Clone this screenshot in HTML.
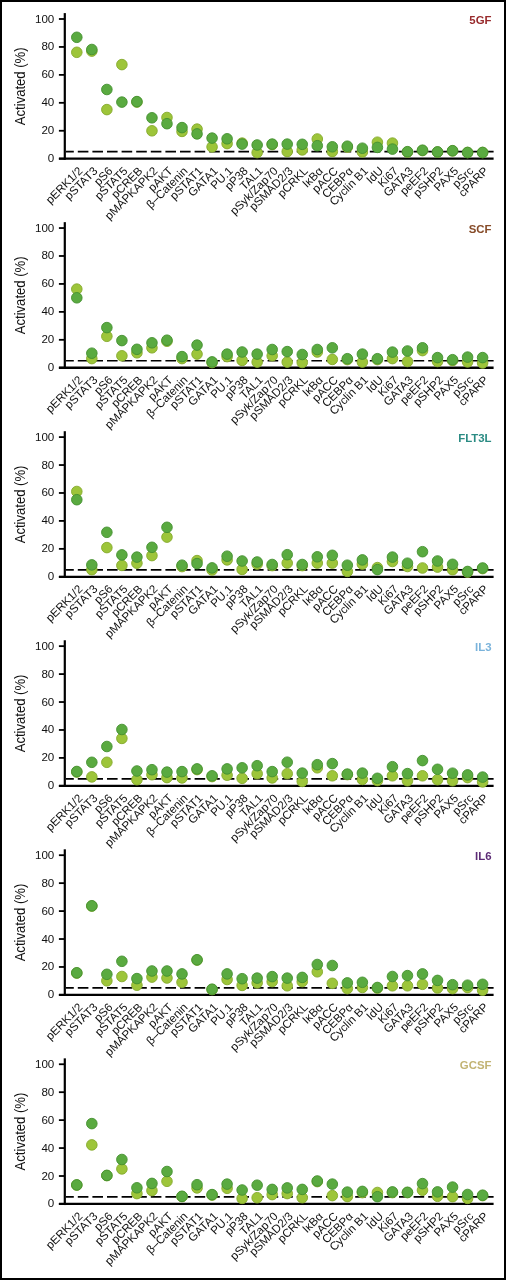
<!DOCTYPE html><html><head><meta charset="utf-8"><style>html,body{margin:0;padding:0;background:#fff;}svg{display:block;will-change:transform;}text{font-family:"Liberation Sans",sans-serif;}</style></head><body>
<svg width="506" height="1280" viewBox="0 0 506 1280">
<rect x="0" y="0" width="506" height="1280" fill="#fff"/>
<g><line x1="64.8" y1="13.10" x2="64.8" y2="159.80" stroke="#000" stroke-width="2.2"/><line x1="58.9" y1="158.70" x2="64.8" y2="158.70" stroke="#000" stroke-width="1.8"/><text x="54.3" y="162.20" font-size="11.6" text-anchor="end" fill="#111">0</text><line x1="58.9" y1="130.76" x2="64.8" y2="130.76" stroke="#000" stroke-width="1.8"/><text x="54.3" y="134.26" font-size="11.6" text-anchor="end" fill="#111">20</text><line x1="58.9" y1="102.82" x2="64.8" y2="102.82" stroke="#000" stroke-width="1.8"/><text x="54.3" y="106.32" font-size="11.6" text-anchor="end" fill="#111">40</text><line x1="58.9" y1="74.88" x2="64.8" y2="74.88" stroke="#000" stroke-width="1.8"/><text x="54.3" y="78.38" font-size="11.6" text-anchor="end" fill="#111">60</text><line x1="58.9" y1="46.94" x2="64.8" y2="46.94" stroke="#000" stroke-width="1.8"/><text x="54.3" y="50.44" font-size="11.6" text-anchor="end" fill="#111">80</text><line x1="58.9" y1="19.00" x2="64.8" y2="19.00" stroke="#000" stroke-width="1.8"/><text x="54.3" y="22.50" font-size="11.6" text-anchor="end" fill="#111">100</text><line x1="58.9" y1="158.70" x2="493.6" y2="158.70" stroke="#000" stroke-width="2.3"/><line x1="65.9" y1="151.70" x2="493.6" y2="151.70" stroke="#000" stroke-width="1.7" stroke-dasharray="10.6 4" stroke-dashoffset="2.7"/><text transform="translate(24.8,86.30) rotate(-90) scale(0.855,1)" font-size="15.3" text-anchor="middle" fill="#111">Activated (%)</text><text x="491.5" y="23.60" font-size="11.4" font-weight="bold" text-anchor="end" fill="#982a2c">5GF</text><text transform="translate(83.20,171.70) rotate(-45) scale(1.0,1)" font-size="11.6" text-anchor="end" fill="#111">pERK1/2</text><text transform="translate(98.23,171.70) rotate(-45) scale(1.0,1)" font-size="11.6" text-anchor="end" fill="#111">pSTAT3</text><text transform="translate(113.26,171.70) rotate(-45) scale(1.0,1)" font-size="11.6" text-anchor="end" fill="#111">pS6</text><text transform="translate(128.29,171.70) rotate(-45) scale(1.0,1)" font-size="11.6" text-anchor="end" fill="#111">pSTAT5</text><text transform="translate(143.32,171.70) rotate(-45) scale(1.0,1)" font-size="11.6" text-anchor="end" fill="#111">pCREB</text><text transform="translate(158.35,171.70) rotate(-45) scale(1.0,1)" font-size="11.6" text-anchor="end" fill="#111">pMAPKAPK2</text><text transform="translate(173.38,171.70) rotate(-45) scale(1.0,1)" font-size="11.6" text-anchor="end" fill="#111">pAKT</text><text transform="translate(188.41,171.70) rotate(-45) scale(1.0,1)" font-size="11.6" text-anchor="end" fill="#111">β–Catenin</text><text transform="translate(203.44,171.70) rotate(-45) scale(1.0,1)" font-size="11.6" text-anchor="end" fill="#111">pSTAT1</text><text transform="translate(218.47,171.70) rotate(-45) scale(1.0,1)" font-size="11.6" text-anchor="end" fill="#111">GATA1</text><text transform="translate(233.50,171.70) rotate(-45) scale(1.0,1)" font-size="11.6" text-anchor="end" fill="#111">PU.1</text><text transform="translate(248.53,171.70) rotate(-45) scale(1.0,1)" font-size="11.6" text-anchor="end" fill="#111">pP38</text><text transform="translate(263.56,171.70) rotate(-45) scale(1.0,1)" font-size="11.6" text-anchor="end" fill="#111">TAL1</text><text transform="translate(278.59,171.70) rotate(-45) scale(1.0,1)" font-size="11.6" text-anchor="end" fill="#111">pSyk/Zap70</text><text transform="translate(293.62,171.70) rotate(-45) scale(1.0,1)" font-size="11.6" text-anchor="end" fill="#111">pSMAD2/3</text><text transform="translate(308.65,171.70) rotate(-45) scale(1.0,1)" font-size="11.6" text-anchor="end" fill="#111">pCRKL</text><text transform="translate(323.68,171.70) rotate(-45) scale(1.0,1)" font-size="11.6" text-anchor="end" fill="#111">IκBα</text><text transform="translate(338.71,171.70) rotate(-45) scale(1.0,1)" font-size="11.6" text-anchor="end" fill="#111">pACC</text><text transform="translate(353.74,171.70) rotate(-45) scale(1.0,1)" font-size="11.6" text-anchor="end" fill="#111">CEBPα</text><text transform="translate(368.77,171.70) rotate(-45) scale(1.0,1)" font-size="11.6" text-anchor="end" fill="#111">Cyclin B1</text><text transform="translate(383.80,171.70) rotate(-45) scale(1.0,1)" font-size="11.6" text-anchor="end" fill="#111">IdU</text><text transform="translate(398.83,171.70) rotate(-45) scale(1.0,1)" font-size="11.6" text-anchor="end" fill="#111">Ki67</text><text transform="translate(413.86,171.70) rotate(-45) scale(1.0,1)" font-size="11.6" text-anchor="end" fill="#111">GATA3</text><text transform="translate(428.89,171.70) rotate(-45) scale(1.0,1)" font-size="11.6" text-anchor="end" fill="#111">peEF2</text><text transform="translate(443.92,171.70) rotate(-45) scale(1.0,1)" font-size="11.6" text-anchor="end" fill="#111">pSHP2</text><text transform="translate(458.95,171.70) rotate(-45) scale(1.0,1)" font-size="11.6" text-anchor="end" fill="#111">PAX5</text><text transform="translate(473.98,171.70) rotate(-45) scale(1.0,1)" font-size="11.6" text-anchor="end" fill="#111">pSrc</text><text transform="translate(489.01,171.70) rotate(-45) scale(1.0,1)" font-size="11.6" text-anchor="end" fill="#111">cPARP</text><circle cx="76.80" cy="52.30" r="5.3" fill="#9dc53a" stroke="#84a92b" stroke-width="0.9"/><circle cx="91.83" cy="51.10" r="5.3" fill="#9dc53a" stroke="#84a92b" stroke-width="0.9"/><circle cx="106.86" cy="109.60" r="5.3" fill="#9dc53a" stroke="#84a92b" stroke-width="0.9"/><circle cx="121.89" cy="64.60" r="5.3" fill="#9dc53a" stroke="#84a92b" stroke-width="0.9"/><circle cx="136.92" cy="102.10" r="5.3" fill="#9dc53a" stroke="#84a92b" stroke-width="0.9"/><circle cx="151.95" cy="130.80" r="5.3" fill="#9dc53a" stroke="#84a92b" stroke-width="0.9"/><circle cx="166.98" cy="117.50" r="5.3" fill="#9dc53a" stroke="#84a92b" stroke-width="0.9"/><circle cx="182.01" cy="131.40" r="5.3" fill="#9dc53a" stroke="#84a92b" stroke-width="0.9"/><circle cx="197.04" cy="129.10" r="5.3" fill="#9dc53a" stroke="#84a92b" stroke-width="0.9"/><circle cx="212.07" cy="146.90" r="5.3" fill="#9dc53a" stroke="#84a92b" stroke-width="0.9"/><circle cx="227.10" cy="143.60" r="5.3" fill="#9dc53a" stroke="#84a92b" stroke-width="0.9"/><circle cx="242.13" cy="143.10" r="5.3" fill="#9dc53a" stroke="#84a92b" stroke-width="0.9"/><circle cx="257.16" cy="152.60" r="5.3" fill="#9dc53a" stroke="#84a92b" stroke-width="0.9"/><circle cx="272.19" cy="144.60" r="5.3" fill="#9dc53a" stroke="#84a92b" stroke-width="0.9"/><circle cx="287.22" cy="151.60" r="5.3" fill="#9dc53a" stroke="#84a92b" stroke-width="0.9"/><circle cx="302.25" cy="149.90" r="5.3" fill="#9dc53a" stroke="#84a92b" stroke-width="0.9"/><circle cx="317.28" cy="139.00" r="5.3" fill="#9dc53a" stroke="#84a92b" stroke-width="0.9"/><circle cx="332.31" cy="151.60" r="5.3" fill="#9dc53a" stroke="#84a92b" stroke-width="0.9"/><circle cx="347.34" cy="147.10" r="5.3" fill="#9dc53a" stroke="#84a92b" stroke-width="0.9"/><circle cx="362.37" cy="152.00" r="5.3" fill="#9dc53a" stroke="#84a92b" stroke-width="0.9"/><circle cx="377.40" cy="142.20" r="5.3" fill="#9dc53a" stroke="#84a92b" stroke-width="0.9"/><circle cx="392.43" cy="143.10" r="5.3" fill="#9dc53a" stroke="#84a92b" stroke-width="0.9"/><circle cx="407.46" cy="152.10" r="5.3" fill="#9dc53a" stroke="#84a92b" stroke-width="0.9"/><circle cx="422.49" cy="150.60" r="5.3" fill="#9dc53a" stroke="#84a92b" stroke-width="0.9"/><circle cx="437.52" cy="152.10" r="5.3" fill="#9dc53a" stroke="#84a92b" stroke-width="0.9"/><circle cx="452.55" cy="150.90" r="5.3" fill="#9dc53a" stroke="#84a92b" stroke-width="0.9"/><circle cx="467.58" cy="152.50" r="5.3" fill="#9dc53a" stroke="#84a92b" stroke-width="0.9"/><circle cx="482.61" cy="152.50" r="5.3" fill="#9dc53a" stroke="#84a92b" stroke-width="0.9"/><circle cx="76.80" cy="37.30" r="5.3" fill="#5aaa40" stroke="#43902f" stroke-width="0.9"/><circle cx="91.83" cy="49.50" r="5.3" fill="#5aaa40" stroke="#43902f" stroke-width="0.9"/><circle cx="106.86" cy="89.50" r="5.3" fill="#5aaa40" stroke="#43902f" stroke-width="0.9"/><circle cx="121.89" cy="102.10" r="5.3" fill="#5aaa40" stroke="#43902f" stroke-width="0.9"/><circle cx="136.92" cy="101.60" r="5.3" fill="#5aaa40" stroke="#43902f" stroke-width="0.9"/><circle cx="151.95" cy="117.80" r="5.3" fill="#5aaa40" stroke="#43902f" stroke-width="0.9"/><circle cx="166.98" cy="123.70" r="5.3" fill="#5aaa40" stroke="#43902f" stroke-width="0.9"/><circle cx="182.01" cy="127.60" r="5.3" fill="#5aaa40" stroke="#43902f" stroke-width="0.9"/><circle cx="197.04" cy="133.90" r="5.3" fill="#5aaa40" stroke="#43902f" stroke-width="0.9"/><circle cx="212.07" cy="138.10" r="5.3" fill="#5aaa40" stroke="#43902f" stroke-width="0.9"/><circle cx="227.10" cy="138.80" r="5.3" fill="#5aaa40" stroke="#43902f" stroke-width="0.9"/><circle cx="242.13" cy="144.10" r="5.3" fill="#5aaa40" stroke="#43902f" stroke-width="0.9"/><circle cx="257.16" cy="145.00" r="5.3" fill="#5aaa40" stroke="#43902f" stroke-width="0.9"/><circle cx="272.19" cy="144.10" r="5.3" fill="#5aaa40" stroke="#43902f" stroke-width="0.9"/><circle cx="287.22" cy="144.10" r="5.3" fill="#5aaa40" stroke="#43902f" stroke-width="0.9"/><circle cx="302.25" cy="144.30" r="5.3" fill="#5aaa40" stroke="#43902f" stroke-width="0.9"/><circle cx="317.28" cy="145.70" r="5.3" fill="#5aaa40" stroke="#43902f" stroke-width="0.9"/><circle cx="332.31" cy="146.80" r="5.3" fill="#5aaa40" stroke="#43902f" stroke-width="0.9"/><circle cx="347.34" cy="146.20" r="5.3" fill="#5aaa40" stroke="#43902f" stroke-width="0.9"/><circle cx="362.37" cy="148.20" r="5.3" fill="#5aaa40" stroke="#43902f" stroke-width="0.9"/><circle cx="377.40" cy="147.40" r="5.3" fill="#5aaa40" stroke="#43902f" stroke-width="0.9"/><circle cx="392.43" cy="149.10" r="5.3" fill="#5aaa40" stroke="#43902f" stroke-width="0.9"/><circle cx="407.46" cy="151.70" r="5.3" fill="#5aaa40" stroke="#43902f" stroke-width="0.9"/><circle cx="422.49" cy="150.20" r="5.3" fill="#5aaa40" stroke="#43902f" stroke-width="0.9"/><circle cx="437.52" cy="151.90" r="5.3" fill="#5aaa40" stroke="#43902f" stroke-width="0.9"/><circle cx="452.55" cy="150.70" r="5.3" fill="#5aaa40" stroke="#43902f" stroke-width="0.9"/><circle cx="467.58" cy="152.50" r="5.3" fill="#5aaa40" stroke="#43902f" stroke-width="0.9"/><circle cx="482.61" cy="152.50" r="5.3" fill="#5aaa40" stroke="#43902f" stroke-width="0.9"/></g>
<g><line x1="64.8" y1="222.15" x2="64.8" y2="368.85" stroke="#000" stroke-width="2.2"/><line x1="58.9" y1="367.75" x2="64.8" y2="367.75" stroke="#000" stroke-width="1.8"/><text x="54.3" y="371.25" font-size="11.6" text-anchor="end" fill="#111">0</text><line x1="58.9" y1="339.81" x2="64.8" y2="339.81" stroke="#000" stroke-width="1.8"/><text x="54.3" y="343.31" font-size="11.6" text-anchor="end" fill="#111">20</text><line x1="58.9" y1="311.87" x2="64.8" y2="311.87" stroke="#000" stroke-width="1.8"/><text x="54.3" y="315.37" font-size="11.6" text-anchor="end" fill="#111">40</text><line x1="58.9" y1="283.93" x2="64.8" y2="283.93" stroke="#000" stroke-width="1.8"/><text x="54.3" y="287.43" font-size="11.6" text-anchor="end" fill="#111">60</text><line x1="58.9" y1="255.99" x2="64.8" y2="255.99" stroke="#000" stroke-width="1.8"/><text x="54.3" y="259.49" font-size="11.6" text-anchor="end" fill="#111">80</text><line x1="58.9" y1="228.05" x2="64.8" y2="228.05" stroke="#000" stroke-width="1.8"/><text x="54.3" y="231.55" font-size="11.6" text-anchor="end" fill="#111">100</text><line x1="58.9" y1="367.75" x2="493.6" y2="367.75" stroke="#000" stroke-width="2.3"/><line x1="65.9" y1="360.75" x2="493.6" y2="360.75" stroke="#000" stroke-width="1.7" stroke-dasharray="10.6 4" stroke-dashoffset="2.7"/><text transform="translate(24.8,295.35) rotate(-90) scale(0.855,1)" font-size="15.3" text-anchor="middle" fill="#111">Activated (%)</text><text x="491.5" y="232.65" font-size="11.4" font-weight="bold" text-anchor="end" fill="#864b28">SCF</text><text transform="translate(83.20,380.75) rotate(-45) scale(1.0,1)" font-size="11.6" text-anchor="end" fill="#111">pERK1/2</text><text transform="translate(98.23,380.75) rotate(-45) scale(1.0,1)" font-size="11.6" text-anchor="end" fill="#111">pSTAT3</text><text transform="translate(113.26,380.75) rotate(-45) scale(1.0,1)" font-size="11.6" text-anchor="end" fill="#111">pS6</text><text transform="translate(128.29,380.75) rotate(-45) scale(1.0,1)" font-size="11.6" text-anchor="end" fill="#111">pSTAT5</text><text transform="translate(143.32,380.75) rotate(-45) scale(1.0,1)" font-size="11.6" text-anchor="end" fill="#111">pCREB</text><text transform="translate(158.35,380.75) rotate(-45) scale(1.0,1)" font-size="11.6" text-anchor="end" fill="#111">pMAPKAPK2</text><text transform="translate(173.38,380.75) rotate(-45) scale(1.0,1)" font-size="11.6" text-anchor="end" fill="#111">pAKT</text><text transform="translate(188.41,380.75) rotate(-45) scale(1.0,1)" font-size="11.6" text-anchor="end" fill="#111">β–Catenin</text><text transform="translate(203.44,380.75) rotate(-45) scale(1.0,1)" font-size="11.6" text-anchor="end" fill="#111">pSTAT1</text><text transform="translate(218.47,380.75) rotate(-45) scale(1.0,1)" font-size="11.6" text-anchor="end" fill="#111">GATA1</text><text transform="translate(233.50,380.75) rotate(-45) scale(1.0,1)" font-size="11.6" text-anchor="end" fill="#111">PU.1</text><text transform="translate(248.53,380.75) rotate(-45) scale(1.0,1)" font-size="11.6" text-anchor="end" fill="#111">pP38</text><text transform="translate(263.56,380.75) rotate(-45) scale(1.0,1)" font-size="11.6" text-anchor="end" fill="#111">TAL1</text><text transform="translate(278.59,380.75) rotate(-45) scale(1.0,1)" font-size="11.6" text-anchor="end" fill="#111">pSyk/Zap70</text><text transform="translate(293.62,380.75) rotate(-45) scale(1.0,1)" font-size="11.6" text-anchor="end" fill="#111">pSMAD2/3</text><text transform="translate(308.65,380.75) rotate(-45) scale(1.0,1)" font-size="11.6" text-anchor="end" fill="#111">pCRKL</text><text transform="translate(323.68,380.75) rotate(-45) scale(1.0,1)" font-size="11.6" text-anchor="end" fill="#111">IκBα</text><text transform="translate(338.71,380.75) rotate(-45) scale(1.0,1)" font-size="11.6" text-anchor="end" fill="#111">pACC</text><text transform="translate(353.74,380.75) rotate(-45) scale(1.0,1)" font-size="11.6" text-anchor="end" fill="#111">CEBPα</text><text transform="translate(368.77,380.75) rotate(-45) scale(1.0,1)" font-size="11.6" text-anchor="end" fill="#111">Cyclin B1</text><text transform="translate(383.80,380.75) rotate(-45) scale(1.0,1)" font-size="11.6" text-anchor="end" fill="#111">IdU</text><text transform="translate(398.83,380.75) rotate(-45) scale(1.0,1)" font-size="11.6" text-anchor="end" fill="#111">Ki67</text><text transform="translate(413.86,380.75) rotate(-45) scale(1.0,1)" font-size="11.6" text-anchor="end" fill="#111">GATA3</text><text transform="translate(428.89,380.75) rotate(-45) scale(1.0,1)" font-size="11.6" text-anchor="end" fill="#111">peEF2</text><text transform="translate(443.92,380.75) rotate(-45) scale(1.0,1)" font-size="11.6" text-anchor="end" fill="#111">pSHP2</text><text transform="translate(458.95,380.75) rotate(-45) scale(1.0,1)" font-size="11.6" text-anchor="end" fill="#111">PAX5</text><text transform="translate(473.98,380.75) rotate(-45) scale(1.0,1)" font-size="11.6" text-anchor="end" fill="#111">pSrc</text><text transform="translate(489.01,380.75) rotate(-45) scale(1.0,1)" font-size="11.6" text-anchor="end" fill="#111">cPARP</text><circle cx="76.80" cy="289.10" r="5.3" fill="#9dc53a" stroke="#84a92b" stroke-width="0.9"/><circle cx="91.83" cy="358.60" r="5.3" fill="#9dc53a" stroke="#84a92b" stroke-width="0.9"/><circle cx="106.86" cy="336.30" r="5.3" fill="#9dc53a" stroke="#84a92b" stroke-width="0.9"/><circle cx="121.89" cy="355.80" r="5.3" fill="#9dc53a" stroke="#84a92b" stroke-width="0.9"/><circle cx="136.92" cy="352.80" r="5.3" fill="#9dc53a" stroke="#84a92b" stroke-width="0.9"/><circle cx="151.95" cy="347.80" r="5.3" fill="#9dc53a" stroke="#84a92b" stroke-width="0.9"/><circle cx="166.98" cy="341.20" r="5.3" fill="#9dc53a" stroke="#84a92b" stroke-width="0.9"/><circle cx="182.01" cy="358.60" r="5.3" fill="#9dc53a" stroke="#84a92b" stroke-width="0.9"/><circle cx="197.04" cy="354.10" r="5.3" fill="#9dc53a" stroke="#84a92b" stroke-width="0.9"/><circle cx="212.07" cy="362.60" r="5.3" fill="#9dc53a" stroke="#84a92b" stroke-width="0.9"/><circle cx="227.10" cy="356.60" r="5.3" fill="#9dc53a" stroke="#84a92b" stroke-width="0.9"/><circle cx="242.13" cy="360.40" r="5.3" fill="#9dc53a" stroke="#84a92b" stroke-width="0.9"/><circle cx="257.16" cy="362.10" r="5.3" fill="#9dc53a" stroke="#84a92b" stroke-width="0.9"/><circle cx="272.19" cy="355.80" r="5.3" fill="#9dc53a" stroke="#84a92b" stroke-width="0.9"/><circle cx="287.22" cy="362.10" r="5.3" fill="#9dc53a" stroke="#84a92b" stroke-width="0.9"/><circle cx="302.25" cy="362.50" r="5.3" fill="#9dc53a" stroke="#84a92b" stroke-width="0.9"/><circle cx="317.28" cy="352.00" r="5.3" fill="#9dc53a" stroke="#84a92b" stroke-width="0.9"/><circle cx="332.31" cy="359.40" r="5.3" fill="#9dc53a" stroke="#84a92b" stroke-width="0.9"/><circle cx="347.34" cy="359.60" r="5.3" fill="#9dc53a" stroke="#84a92b" stroke-width="0.9"/><circle cx="362.37" cy="362.10" r="5.3" fill="#9dc53a" stroke="#84a92b" stroke-width="0.9"/><circle cx="377.40" cy="359.60" r="5.3" fill="#9dc53a" stroke="#84a92b" stroke-width="0.9"/><circle cx="392.43" cy="358.60" r="5.3" fill="#9dc53a" stroke="#84a92b" stroke-width="0.9"/><circle cx="407.46" cy="361.50" r="5.3" fill="#9dc53a" stroke="#84a92b" stroke-width="0.9"/><circle cx="422.49" cy="350.60" r="5.3" fill="#9dc53a" stroke="#84a92b" stroke-width="0.9"/><circle cx="437.52" cy="361.50" r="5.3" fill="#9dc53a" stroke="#84a92b" stroke-width="0.9"/><circle cx="452.55" cy="360.60" r="5.3" fill="#9dc53a" stroke="#84a92b" stroke-width="0.9"/><circle cx="467.58" cy="361.90" r="5.3" fill="#9dc53a" stroke="#84a92b" stroke-width="0.9"/><circle cx="482.61" cy="363.00" r="5.3" fill="#9dc53a" stroke="#84a92b" stroke-width="0.9"/><circle cx="76.80" cy="297.80" r="5.3" fill="#5aaa40" stroke="#43902f" stroke-width="0.9"/><circle cx="91.83" cy="353.20" r="5.3" fill="#5aaa40" stroke="#43902f" stroke-width="0.9"/><circle cx="106.86" cy="327.60" r="5.3" fill="#5aaa40" stroke="#43902f" stroke-width="0.9"/><circle cx="121.89" cy="340.60" r="5.3" fill="#5aaa40" stroke="#43902f" stroke-width="0.9"/><circle cx="136.92" cy="349.30" r="5.3" fill="#5aaa40" stroke="#43902f" stroke-width="0.9"/><circle cx="151.95" cy="342.80" r="5.3" fill="#5aaa40" stroke="#43902f" stroke-width="0.9"/><circle cx="166.98" cy="340.20" r="5.3" fill="#5aaa40" stroke="#43902f" stroke-width="0.9"/><circle cx="182.01" cy="356.60" r="5.3" fill="#5aaa40" stroke="#43902f" stroke-width="0.9"/><circle cx="197.04" cy="345.10" r="5.3" fill="#5aaa40" stroke="#43902f" stroke-width="0.9"/><circle cx="212.07" cy="361.90" r="5.3" fill="#5aaa40" stroke="#43902f" stroke-width="0.9"/><circle cx="227.10" cy="354.10" r="5.3" fill="#5aaa40" stroke="#43902f" stroke-width="0.9"/><circle cx="242.13" cy="352.00" r="5.3" fill="#5aaa40" stroke="#43902f" stroke-width="0.9"/><circle cx="257.16" cy="354.10" r="5.3" fill="#5aaa40" stroke="#43902f" stroke-width="0.9"/><circle cx="272.19" cy="349.50" r="5.3" fill="#5aaa40" stroke="#43902f" stroke-width="0.9"/><circle cx="287.22" cy="351.60" r="5.3" fill="#5aaa40" stroke="#43902f" stroke-width="0.9"/><circle cx="302.25" cy="354.50" r="5.3" fill="#5aaa40" stroke="#43902f" stroke-width="0.9"/><circle cx="317.28" cy="349.50" r="5.3" fill="#5aaa40" stroke="#43902f" stroke-width="0.9"/><circle cx="332.31" cy="347.80" r="5.3" fill="#5aaa40" stroke="#43902f" stroke-width="0.9"/><circle cx="347.34" cy="358.70" r="5.3" fill="#5aaa40" stroke="#43902f" stroke-width="0.9"/><circle cx="362.37" cy="354.10" r="5.3" fill="#5aaa40" stroke="#43902f" stroke-width="0.9"/><circle cx="377.40" cy="358.70" r="5.3" fill="#5aaa40" stroke="#43902f" stroke-width="0.9"/><circle cx="392.43" cy="352.10" r="5.3" fill="#5aaa40" stroke="#43902f" stroke-width="0.9"/><circle cx="407.46" cy="351.00" r="5.3" fill="#5aaa40" stroke="#43902f" stroke-width="0.9"/><circle cx="422.49" cy="347.80" r="5.3" fill="#5aaa40" stroke="#43902f" stroke-width="0.9"/><circle cx="437.52" cy="357.60" r="5.3" fill="#5aaa40" stroke="#43902f" stroke-width="0.9"/><circle cx="452.55" cy="359.70" r="5.3" fill="#5aaa40" stroke="#43902f" stroke-width="0.9"/><circle cx="467.58" cy="357.10" r="5.3" fill="#5aaa40" stroke="#43902f" stroke-width="0.9"/><circle cx="482.61" cy="357.60" r="5.3" fill="#5aaa40" stroke="#43902f" stroke-width="0.9"/></g>
<g><line x1="64.8" y1="431.20" x2="64.8" y2="577.90" stroke="#000" stroke-width="2.2"/><line x1="58.9" y1="576.80" x2="64.8" y2="576.80" stroke="#000" stroke-width="1.8"/><text x="54.3" y="580.30" font-size="11.6" text-anchor="end" fill="#111">0</text><line x1="58.9" y1="548.86" x2="64.8" y2="548.86" stroke="#000" stroke-width="1.8"/><text x="54.3" y="552.36" font-size="11.6" text-anchor="end" fill="#111">20</text><line x1="58.9" y1="520.92" x2="64.8" y2="520.92" stroke="#000" stroke-width="1.8"/><text x="54.3" y="524.42" font-size="11.6" text-anchor="end" fill="#111">40</text><line x1="58.9" y1="492.98" x2="64.8" y2="492.98" stroke="#000" stroke-width="1.8"/><text x="54.3" y="496.48" font-size="11.6" text-anchor="end" fill="#111">60</text><line x1="58.9" y1="465.04" x2="64.8" y2="465.04" stroke="#000" stroke-width="1.8"/><text x="54.3" y="468.54" font-size="11.6" text-anchor="end" fill="#111">80</text><line x1="58.9" y1="437.10" x2="64.8" y2="437.10" stroke="#000" stroke-width="1.8"/><text x="54.3" y="440.60" font-size="11.6" text-anchor="end" fill="#111">100</text><line x1="58.9" y1="576.80" x2="493.6" y2="576.80" stroke="#000" stroke-width="2.3"/><line x1="65.9" y1="569.80" x2="493.6" y2="569.80" stroke="#000" stroke-width="1.7" stroke-dasharray="10.6 4" stroke-dashoffset="2.7"/><text transform="translate(24.8,504.40) rotate(-90) scale(0.855,1)" font-size="15.3" text-anchor="middle" fill="#111">Activated (%)</text><text x="491.5" y="441.70" font-size="11.4" font-weight="bold" text-anchor="end" fill="#2a8b83">FLT3L</text><text transform="translate(83.20,589.80) rotate(-45) scale(1.0,1)" font-size="11.6" text-anchor="end" fill="#111">pERK1/2</text><text transform="translate(98.23,589.80) rotate(-45) scale(1.0,1)" font-size="11.6" text-anchor="end" fill="#111">pSTAT3</text><text transform="translate(113.26,589.80) rotate(-45) scale(1.0,1)" font-size="11.6" text-anchor="end" fill="#111">pS6</text><text transform="translate(128.29,589.80) rotate(-45) scale(1.0,1)" font-size="11.6" text-anchor="end" fill="#111">pSTAT5</text><text transform="translate(143.32,589.80) rotate(-45) scale(1.0,1)" font-size="11.6" text-anchor="end" fill="#111">pCREB</text><text transform="translate(158.35,589.80) rotate(-45) scale(1.0,1)" font-size="11.6" text-anchor="end" fill="#111">pMAPKAPK2</text><text transform="translate(173.38,589.80) rotate(-45) scale(1.0,1)" font-size="11.6" text-anchor="end" fill="#111">pAKT</text><text transform="translate(188.41,589.80) rotate(-45) scale(1.0,1)" font-size="11.6" text-anchor="end" fill="#111">β–Catenin</text><text transform="translate(203.44,589.80) rotate(-45) scale(1.0,1)" font-size="11.6" text-anchor="end" fill="#111">pSTAT1</text><text transform="translate(218.47,589.80) rotate(-45) scale(1.0,1)" font-size="11.6" text-anchor="end" fill="#111">GATA1</text><text transform="translate(233.50,589.80) rotate(-45) scale(1.0,1)" font-size="11.6" text-anchor="end" fill="#111">PU.1</text><text transform="translate(248.53,589.80) rotate(-45) scale(1.0,1)" font-size="11.6" text-anchor="end" fill="#111">pP38</text><text transform="translate(263.56,589.80) rotate(-45) scale(1.0,1)" font-size="11.6" text-anchor="end" fill="#111">TAL1</text><text transform="translate(278.59,589.80) rotate(-45) scale(1.0,1)" font-size="11.6" text-anchor="end" fill="#111">pSyk/Zap70</text><text transform="translate(293.62,589.80) rotate(-45) scale(1.0,1)" font-size="11.6" text-anchor="end" fill="#111">pSMAD2/3</text><text transform="translate(308.65,589.80) rotate(-45) scale(1.0,1)" font-size="11.6" text-anchor="end" fill="#111">pCRKL</text><text transform="translate(323.68,589.80) rotate(-45) scale(1.0,1)" font-size="11.6" text-anchor="end" fill="#111">IκBα</text><text transform="translate(338.71,589.80) rotate(-45) scale(1.0,1)" font-size="11.6" text-anchor="end" fill="#111">pACC</text><text transform="translate(353.74,589.80) rotate(-45) scale(1.0,1)" font-size="11.6" text-anchor="end" fill="#111">CEBPα</text><text transform="translate(368.77,589.80) rotate(-45) scale(1.0,1)" font-size="11.6" text-anchor="end" fill="#111">Cyclin B1</text><text transform="translate(383.80,589.80) rotate(-45) scale(1.0,1)" font-size="11.6" text-anchor="end" fill="#111">IdU</text><text transform="translate(398.83,589.80) rotate(-45) scale(1.0,1)" font-size="11.6" text-anchor="end" fill="#111">Ki67</text><text transform="translate(413.86,589.80) rotate(-45) scale(1.0,1)" font-size="11.6" text-anchor="end" fill="#111">GATA3</text><text transform="translate(428.89,589.80) rotate(-45) scale(1.0,1)" font-size="11.6" text-anchor="end" fill="#111">peEF2</text><text transform="translate(443.92,589.80) rotate(-45) scale(1.0,1)" font-size="11.6" text-anchor="end" fill="#111">pSHP2</text><text transform="translate(458.95,589.80) rotate(-45) scale(1.0,1)" font-size="11.6" text-anchor="end" fill="#111">PAX5</text><text transform="translate(473.98,589.80) rotate(-45) scale(1.0,1)" font-size="11.6" text-anchor="end" fill="#111">pSrc</text><text transform="translate(489.01,589.80) rotate(-45) scale(1.0,1)" font-size="11.6" text-anchor="end" fill="#111">cPARP</text><circle cx="76.80" cy="491.50" r="5.3" fill="#9dc53a" stroke="#84a92b" stroke-width="0.9"/><circle cx="91.83" cy="569.70" r="5.3" fill="#9dc53a" stroke="#84a92b" stroke-width="0.9"/><circle cx="106.86" cy="547.60" r="5.3" fill="#9dc53a" stroke="#84a92b" stroke-width="0.9"/><circle cx="121.89" cy="565.40" r="5.3" fill="#9dc53a" stroke="#84a92b" stroke-width="0.9"/><circle cx="136.92" cy="563.20" r="5.3" fill="#9dc53a" stroke="#84a92b" stroke-width="0.9"/><circle cx="151.95" cy="555.60" r="5.3" fill="#9dc53a" stroke="#84a92b" stroke-width="0.9"/><circle cx="166.98" cy="537.10" r="5.3" fill="#9dc53a" stroke="#84a92b" stroke-width="0.9"/><circle cx="182.01" cy="566.60" r="5.3" fill="#9dc53a" stroke="#84a92b" stroke-width="0.9"/><circle cx="197.04" cy="560.60" r="5.3" fill="#9dc53a" stroke="#84a92b" stroke-width="0.9"/><circle cx="212.07" cy="570.00" r="5.3" fill="#9dc53a" stroke="#84a92b" stroke-width="0.9"/><circle cx="227.10" cy="559.90" r="5.3" fill="#9dc53a" stroke="#84a92b" stroke-width="0.9"/><circle cx="242.13" cy="569.40" r="5.3" fill="#9dc53a" stroke="#84a92b" stroke-width="0.9"/><circle cx="257.16" cy="564.10" r="5.3" fill="#9dc53a" stroke="#84a92b" stroke-width="0.9"/><circle cx="272.19" cy="565.60" r="5.3" fill="#9dc53a" stroke="#84a92b" stroke-width="0.9"/><circle cx="287.22" cy="563.10" r="5.3" fill="#9dc53a" stroke="#84a92b" stroke-width="0.9"/><circle cx="302.25" cy="565.60" r="5.3" fill="#9dc53a" stroke="#84a92b" stroke-width="0.9"/><circle cx="317.28" cy="563.10" r="5.3" fill="#9dc53a" stroke="#84a92b" stroke-width="0.9"/><circle cx="332.31" cy="563.10" r="5.3" fill="#9dc53a" stroke="#84a92b" stroke-width="0.9"/><circle cx="347.34" cy="571.40" r="5.3" fill="#9dc53a" stroke="#84a92b" stroke-width="0.9"/><circle cx="362.37" cy="564.10" r="5.3" fill="#9dc53a" stroke="#84a92b" stroke-width="0.9"/><circle cx="377.40" cy="567.60" r="5.3" fill="#9dc53a" stroke="#84a92b" stroke-width="0.9"/><circle cx="392.43" cy="561.50" r="5.3" fill="#9dc53a" stroke="#84a92b" stroke-width="0.9"/><circle cx="407.46" cy="566.50" r="5.3" fill="#9dc53a" stroke="#84a92b" stroke-width="0.9"/><circle cx="422.49" cy="568.00" r="5.3" fill="#9dc53a" stroke="#84a92b" stroke-width="0.9"/><circle cx="437.52" cy="567.10" r="5.3" fill="#9dc53a" stroke="#84a92b" stroke-width="0.9"/><circle cx="452.55" cy="569.70" r="5.3" fill="#9dc53a" stroke="#84a92b" stroke-width="0.9"/><circle cx="467.58" cy="572.10" r="5.3" fill="#9dc53a" stroke="#84a92b" stroke-width="0.9"/><circle cx="482.61" cy="568.60" r="5.3" fill="#9dc53a" stroke="#84a92b" stroke-width="0.9"/><circle cx="76.80" cy="499.70" r="5.3" fill="#5aaa40" stroke="#43902f" stroke-width="0.9"/><circle cx="91.83" cy="564.90" r="5.3" fill="#5aaa40" stroke="#43902f" stroke-width="0.9"/><circle cx="106.86" cy="532.30" r="5.3" fill="#5aaa40" stroke="#43902f" stroke-width="0.9"/><circle cx="121.89" cy="554.90" r="5.3" fill="#5aaa40" stroke="#43902f" stroke-width="0.9"/><circle cx="136.92" cy="557.10" r="5.3" fill="#5aaa40" stroke="#43902f" stroke-width="0.9"/><circle cx="151.95" cy="547.30" r="5.3" fill="#5aaa40" stroke="#43902f" stroke-width="0.9"/><circle cx="166.98" cy="527.30" r="5.3" fill="#5aaa40" stroke="#43902f" stroke-width="0.9"/><circle cx="182.01" cy="565.20" r="5.3" fill="#5aaa40" stroke="#43902f" stroke-width="0.9"/><circle cx="197.04" cy="563.60" r="5.3" fill="#5aaa40" stroke="#43902f" stroke-width="0.9"/><circle cx="212.07" cy="567.90" r="5.3" fill="#5aaa40" stroke="#43902f" stroke-width="0.9"/><circle cx="227.10" cy="556.20" r="5.3" fill="#5aaa40" stroke="#43902f" stroke-width="0.9"/><circle cx="242.13" cy="561.00" r="5.3" fill="#5aaa40" stroke="#43902f" stroke-width="0.9"/><circle cx="257.16" cy="562.00" r="5.3" fill="#5aaa40" stroke="#43902f" stroke-width="0.9"/><circle cx="272.19" cy="564.50" r="5.3" fill="#5aaa40" stroke="#43902f" stroke-width="0.9"/><circle cx="287.22" cy="554.70" r="5.3" fill="#5aaa40" stroke="#43902f" stroke-width="0.9"/><circle cx="302.25" cy="564.50" r="5.3" fill="#5aaa40" stroke="#43902f" stroke-width="0.9"/><circle cx="317.28" cy="556.80" r="5.3" fill="#5aaa40" stroke="#43902f" stroke-width="0.9"/><circle cx="332.31" cy="555.30" r="5.3" fill="#5aaa40" stroke="#43902f" stroke-width="0.9"/><circle cx="347.34" cy="565.20" r="5.3" fill="#5aaa40" stroke="#43902f" stroke-width="0.9"/><circle cx="362.37" cy="559.90" r="5.3" fill="#5aaa40" stroke="#43902f" stroke-width="0.9"/><circle cx="377.40" cy="569.60" r="5.3" fill="#5aaa40" stroke="#43902f" stroke-width="0.9"/><circle cx="392.43" cy="557.10" r="5.3" fill="#5aaa40" stroke="#43902f" stroke-width="0.9"/><circle cx="407.46" cy="563.20" r="5.3" fill="#5aaa40" stroke="#43902f" stroke-width="0.9"/><circle cx="422.49" cy="551.70" r="5.3" fill="#5aaa40" stroke="#43902f" stroke-width="0.9"/><circle cx="437.52" cy="561.00" r="5.3" fill="#5aaa40" stroke="#43902f" stroke-width="0.9"/><circle cx="452.55" cy="564.30" r="5.3" fill="#5aaa40" stroke="#43902f" stroke-width="0.9"/><circle cx="467.58" cy="571.50" r="5.3" fill="#5aaa40" stroke="#43902f" stroke-width="0.9"/><circle cx="482.61" cy="568.00" r="5.3" fill="#5aaa40" stroke="#43902f" stroke-width="0.9"/></g>
<g><line x1="64.8" y1="640.25" x2="64.8" y2="786.95" stroke="#000" stroke-width="2.2"/><line x1="58.9" y1="785.85" x2="64.8" y2="785.85" stroke="#000" stroke-width="1.8"/><text x="54.3" y="789.35" font-size="11.6" text-anchor="end" fill="#111">0</text><line x1="58.9" y1="757.91" x2="64.8" y2="757.91" stroke="#000" stroke-width="1.8"/><text x="54.3" y="761.41" font-size="11.6" text-anchor="end" fill="#111">20</text><line x1="58.9" y1="729.97" x2="64.8" y2="729.97" stroke="#000" stroke-width="1.8"/><text x="54.3" y="733.47" font-size="11.6" text-anchor="end" fill="#111">40</text><line x1="58.9" y1="702.03" x2="64.8" y2="702.03" stroke="#000" stroke-width="1.8"/><text x="54.3" y="705.53" font-size="11.6" text-anchor="end" fill="#111">60</text><line x1="58.9" y1="674.09" x2="64.8" y2="674.09" stroke="#000" stroke-width="1.8"/><text x="54.3" y="677.59" font-size="11.6" text-anchor="end" fill="#111">80</text><line x1="58.9" y1="646.15" x2="64.8" y2="646.15" stroke="#000" stroke-width="1.8"/><text x="54.3" y="649.65" font-size="11.6" text-anchor="end" fill="#111">100</text><line x1="58.9" y1="785.85" x2="493.6" y2="785.85" stroke="#000" stroke-width="2.3"/><line x1="65.9" y1="778.85" x2="493.6" y2="778.85" stroke="#000" stroke-width="1.7" stroke-dasharray="10.6 4" stroke-dashoffset="2.7"/><text transform="translate(24.8,713.45) rotate(-90) scale(0.855,1)" font-size="15.3" text-anchor="middle" fill="#111">Activated (%)</text><text x="491.5" y="650.75" font-size="11.4" font-weight="bold" text-anchor="end" fill="#7ab3db">IL3</text><text transform="translate(83.20,798.85) rotate(-45) scale(1.0,1)" font-size="11.6" text-anchor="end" fill="#111">pERK1/2</text><text transform="translate(98.23,798.85) rotate(-45) scale(1.0,1)" font-size="11.6" text-anchor="end" fill="#111">pSTAT3</text><text transform="translate(113.26,798.85) rotate(-45) scale(1.0,1)" font-size="11.6" text-anchor="end" fill="#111">pS6</text><text transform="translate(128.29,798.85) rotate(-45) scale(1.0,1)" font-size="11.6" text-anchor="end" fill="#111">pSTAT5</text><text transform="translate(143.32,798.85) rotate(-45) scale(1.0,1)" font-size="11.6" text-anchor="end" fill="#111">pCREB</text><text transform="translate(158.35,798.85) rotate(-45) scale(1.0,1)" font-size="11.6" text-anchor="end" fill="#111">pMAPKAPK2</text><text transform="translate(173.38,798.85) rotate(-45) scale(1.0,1)" font-size="11.6" text-anchor="end" fill="#111">pAKT</text><text transform="translate(188.41,798.85) rotate(-45) scale(1.0,1)" font-size="11.6" text-anchor="end" fill="#111">β–Catenin</text><text transform="translate(203.44,798.85) rotate(-45) scale(1.0,1)" font-size="11.6" text-anchor="end" fill="#111">pSTAT1</text><text transform="translate(218.47,798.85) rotate(-45) scale(1.0,1)" font-size="11.6" text-anchor="end" fill="#111">GATA1</text><text transform="translate(233.50,798.85) rotate(-45) scale(1.0,1)" font-size="11.6" text-anchor="end" fill="#111">PU.1</text><text transform="translate(248.53,798.85) rotate(-45) scale(1.0,1)" font-size="11.6" text-anchor="end" fill="#111">pP38</text><text transform="translate(263.56,798.85) rotate(-45) scale(1.0,1)" font-size="11.6" text-anchor="end" fill="#111">TAL1</text><text transform="translate(278.59,798.85) rotate(-45) scale(1.0,1)" font-size="11.6" text-anchor="end" fill="#111">pSyk/Zap70</text><text transform="translate(293.62,798.85) rotate(-45) scale(1.0,1)" font-size="11.6" text-anchor="end" fill="#111">pSMAD2/3</text><text transform="translate(308.65,798.85) rotate(-45) scale(1.0,1)" font-size="11.6" text-anchor="end" fill="#111">pCRKL</text><text transform="translate(323.68,798.85) rotate(-45) scale(1.0,1)" font-size="11.6" text-anchor="end" fill="#111">IκBα</text><text transform="translate(338.71,798.85) rotate(-45) scale(1.0,1)" font-size="11.6" text-anchor="end" fill="#111">pACC</text><text transform="translate(353.74,798.85) rotate(-45) scale(1.0,1)" font-size="11.6" text-anchor="end" fill="#111">CEBPα</text><text transform="translate(368.77,798.85) rotate(-45) scale(1.0,1)" font-size="11.6" text-anchor="end" fill="#111">Cyclin B1</text><text transform="translate(383.80,798.85) rotate(-45) scale(1.0,1)" font-size="11.6" text-anchor="end" fill="#111">IdU</text><text transform="translate(398.83,798.85) rotate(-45) scale(1.0,1)" font-size="11.6" text-anchor="end" fill="#111">Ki67</text><text transform="translate(413.86,798.85) rotate(-45) scale(1.0,1)" font-size="11.6" text-anchor="end" fill="#111">GATA3</text><text transform="translate(428.89,798.85) rotate(-45) scale(1.0,1)" font-size="11.6" text-anchor="end" fill="#111">peEF2</text><text transform="translate(443.92,798.85) rotate(-45) scale(1.0,1)" font-size="11.6" text-anchor="end" fill="#111">pSHP2</text><text transform="translate(458.95,798.85) rotate(-45) scale(1.0,1)" font-size="11.6" text-anchor="end" fill="#111">PAX5</text><text transform="translate(473.98,798.85) rotate(-45) scale(1.0,1)" font-size="11.6" text-anchor="end" fill="#111">pSrc</text><text transform="translate(489.01,798.85) rotate(-45) scale(1.0,1)" font-size="11.6" text-anchor="end" fill="#111">cPARP</text><circle cx="76.80" cy="772.10" r="5.3" fill="#9dc53a" stroke="#84a92b" stroke-width="0.9"/><circle cx="91.83" cy="776.90" r="5.3" fill="#9dc53a" stroke="#84a92b" stroke-width="0.9"/><circle cx="106.86" cy="762.30" r="5.3" fill="#9dc53a" stroke="#84a92b" stroke-width="0.9"/><circle cx="121.89" cy="738.40" r="5.3" fill="#9dc53a" stroke="#84a92b" stroke-width="0.9"/><circle cx="136.92" cy="779.70" r="5.3" fill="#9dc53a" stroke="#84a92b" stroke-width="0.9"/><circle cx="151.95" cy="774.70" r="5.3" fill="#9dc53a" stroke="#84a92b" stroke-width="0.9"/><circle cx="166.98" cy="777.60" r="5.3" fill="#9dc53a" stroke="#84a92b" stroke-width="0.9"/><circle cx="182.01" cy="777.90" r="5.3" fill="#9dc53a" stroke="#84a92b" stroke-width="0.9"/><circle cx="197.04" cy="769.60" r="5.3" fill="#9dc53a" stroke="#84a92b" stroke-width="0.9"/><circle cx="212.07" cy="776.60" r="5.3" fill="#9dc53a" stroke="#84a92b" stroke-width="0.9"/><circle cx="227.10" cy="775.20" r="5.3" fill="#9dc53a" stroke="#84a92b" stroke-width="0.9"/><circle cx="242.13" cy="778.30" r="5.3" fill="#9dc53a" stroke="#84a92b" stroke-width="0.9"/><circle cx="257.16" cy="773.70" r="5.3" fill="#9dc53a" stroke="#84a92b" stroke-width="0.9"/><circle cx="272.19" cy="777.90" r="5.3" fill="#9dc53a" stroke="#84a92b" stroke-width="0.9"/><circle cx="287.22" cy="773.70" r="5.3" fill="#9dc53a" stroke="#84a92b" stroke-width="0.9"/><circle cx="302.25" cy="781.40" r="5.3" fill="#9dc53a" stroke="#84a92b" stroke-width="0.9"/><circle cx="317.28" cy="767.80" r="5.3" fill="#9dc53a" stroke="#84a92b" stroke-width="0.9"/><circle cx="332.31" cy="775.80" r="5.3" fill="#9dc53a" stroke="#84a92b" stroke-width="0.9"/><circle cx="347.34" cy="774.60" r="5.3" fill="#9dc53a" stroke="#84a92b" stroke-width="0.9"/><circle cx="362.37" cy="779.40" r="5.3" fill="#9dc53a" stroke="#84a92b" stroke-width="0.9"/><circle cx="377.40" cy="780.60" r="5.3" fill="#9dc53a" stroke="#84a92b" stroke-width="0.9"/><circle cx="392.43" cy="775.80" r="5.3" fill="#9dc53a" stroke="#84a92b" stroke-width="0.9"/><circle cx="407.46" cy="780.80" r="5.3" fill="#9dc53a" stroke="#84a92b" stroke-width="0.9"/><circle cx="422.49" cy="775.80" r="5.3" fill="#9dc53a" stroke="#84a92b" stroke-width="0.9"/><circle cx="437.52" cy="779.70" r="5.3" fill="#9dc53a" stroke="#84a92b" stroke-width="0.9"/><circle cx="452.55" cy="780.80" r="5.3" fill="#9dc53a" stroke="#84a92b" stroke-width="0.9"/><circle cx="467.58" cy="777.60" r="5.3" fill="#9dc53a" stroke="#84a92b" stroke-width="0.9"/><circle cx="482.61" cy="781.90" r="5.3" fill="#9dc53a" stroke="#84a92b" stroke-width="0.9"/><circle cx="76.80" cy="771.50" r="5.3" fill="#5aaa40" stroke="#43902f" stroke-width="0.9"/><circle cx="91.83" cy="762.30" r="5.3" fill="#5aaa40" stroke="#43902f" stroke-width="0.9"/><circle cx="106.86" cy="746.50" r="5.3" fill="#5aaa40" stroke="#43902f" stroke-width="0.9"/><circle cx="121.89" cy="729.50" r="5.3" fill="#5aaa40" stroke="#43902f" stroke-width="0.9"/><circle cx="136.92" cy="771.00" r="5.3" fill="#5aaa40" stroke="#43902f" stroke-width="0.9"/><circle cx="151.95" cy="769.70" r="5.3" fill="#5aaa40" stroke="#43902f" stroke-width="0.9"/><circle cx="166.98" cy="772.10" r="5.3" fill="#5aaa40" stroke="#43902f" stroke-width="0.9"/><circle cx="182.01" cy="771.60" r="5.3" fill="#5aaa40" stroke="#43902f" stroke-width="0.9"/><circle cx="197.04" cy="768.90" r="5.3" fill="#5aaa40" stroke="#43902f" stroke-width="0.9"/><circle cx="212.07" cy="775.80" r="5.3" fill="#5aaa40" stroke="#43902f" stroke-width="0.9"/><circle cx="227.10" cy="768.90" r="5.3" fill="#5aaa40" stroke="#43902f" stroke-width="0.9"/><circle cx="242.13" cy="767.80" r="5.3" fill="#5aaa40" stroke="#43902f" stroke-width="0.9"/><circle cx="257.16" cy="765.70" r="5.3" fill="#5aaa40" stroke="#43902f" stroke-width="0.9"/><circle cx="272.19" cy="771.60" r="5.3" fill="#5aaa40" stroke="#43902f" stroke-width="0.9"/><circle cx="287.22" cy="762.20" r="5.3" fill="#5aaa40" stroke="#43902f" stroke-width="0.9"/><circle cx="302.25" cy="773.10" r="5.3" fill="#5aaa40" stroke="#43902f" stroke-width="0.9"/><circle cx="317.28" cy="764.70" r="5.3" fill="#5aaa40" stroke="#43902f" stroke-width="0.9"/><circle cx="332.31" cy="763.60" r="5.3" fill="#5aaa40" stroke="#43902f" stroke-width="0.9"/><circle cx="347.34" cy="774.10" r="5.3" fill="#5aaa40" stroke="#43902f" stroke-width="0.9"/><circle cx="362.37" cy="773.10" r="5.3" fill="#5aaa40" stroke="#43902f" stroke-width="0.9"/><circle cx="377.40" cy="778.30" r="5.3" fill="#5aaa40" stroke="#43902f" stroke-width="0.9"/><circle cx="392.43" cy="766.70" r="5.3" fill="#5aaa40" stroke="#43902f" stroke-width="0.9"/><circle cx="407.46" cy="773.60" r="5.3" fill="#5aaa40" stroke="#43902f" stroke-width="0.9"/><circle cx="422.49" cy="760.60" r="5.3" fill="#5aaa40" stroke="#43902f" stroke-width="0.9"/><circle cx="437.52" cy="769.30" r="5.3" fill="#5aaa40" stroke="#43902f" stroke-width="0.9"/><circle cx="452.55" cy="773.20" r="5.3" fill="#5aaa40" stroke="#43902f" stroke-width="0.9"/><circle cx="467.58" cy="774.90" r="5.3" fill="#5aaa40" stroke="#43902f" stroke-width="0.9"/><circle cx="482.61" cy="777.10" r="5.3" fill="#5aaa40" stroke="#43902f" stroke-width="0.9"/></g>
<g><line x1="64.8" y1="849.30" x2="64.8" y2="996.00" stroke="#000" stroke-width="2.2"/><line x1="58.9" y1="994.90" x2="64.8" y2="994.90" stroke="#000" stroke-width="1.8"/><text x="54.3" y="998.40" font-size="11.6" text-anchor="end" fill="#111">0</text><line x1="58.9" y1="966.96" x2="64.8" y2="966.96" stroke="#000" stroke-width="1.8"/><text x="54.3" y="970.46" font-size="11.6" text-anchor="end" fill="#111">20</text><line x1="58.9" y1="939.02" x2="64.8" y2="939.02" stroke="#000" stroke-width="1.8"/><text x="54.3" y="942.52" font-size="11.6" text-anchor="end" fill="#111">40</text><line x1="58.9" y1="911.08" x2="64.8" y2="911.08" stroke="#000" stroke-width="1.8"/><text x="54.3" y="914.58" font-size="11.6" text-anchor="end" fill="#111">60</text><line x1="58.9" y1="883.14" x2="64.8" y2="883.14" stroke="#000" stroke-width="1.8"/><text x="54.3" y="886.64" font-size="11.6" text-anchor="end" fill="#111">80</text><line x1="58.9" y1="855.20" x2="64.8" y2="855.20" stroke="#000" stroke-width="1.8"/><text x="54.3" y="858.70" font-size="11.6" text-anchor="end" fill="#111">100</text><line x1="58.9" y1="994.90" x2="493.6" y2="994.90" stroke="#000" stroke-width="2.3"/><line x1="65.9" y1="987.90" x2="493.6" y2="987.90" stroke="#000" stroke-width="1.7" stroke-dasharray="10.6 4" stroke-dashoffset="2.7"/><text transform="translate(24.8,922.50) rotate(-90) scale(0.855,1)" font-size="15.3" text-anchor="middle" fill="#111">Activated (%)</text><text x="491.5" y="859.80" font-size="11.4" font-weight="bold" text-anchor="end" fill="#5d2c76">IL6</text><text transform="translate(83.20,1007.90) rotate(-45) scale(1.0,1)" font-size="11.6" text-anchor="end" fill="#111">pERK1/2</text><text transform="translate(98.23,1007.90) rotate(-45) scale(1.0,1)" font-size="11.6" text-anchor="end" fill="#111">pSTAT3</text><text transform="translate(113.26,1007.90) rotate(-45) scale(1.0,1)" font-size="11.6" text-anchor="end" fill="#111">pS6</text><text transform="translate(128.29,1007.90) rotate(-45) scale(1.0,1)" font-size="11.6" text-anchor="end" fill="#111">pSTAT5</text><text transform="translate(143.32,1007.90) rotate(-45) scale(1.0,1)" font-size="11.6" text-anchor="end" fill="#111">pCREB</text><text transform="translate(158.35,1007.90) rotate(-45) scale(1.0,1)" font-size="11.6" text-anchor="end" fill="#111">pMAPKAPK2</text><text transform="translate(173.38,1007.90) rotate(-45) scale(1.0,1)" font-size="11.6" text-anchor="end" fill="#111">pAKT</text><text transform="translate(188.41,1007.90) rotate(-45) scale(1.0,1)" font-size="11.6" text-anchor="end" fill="#111">β–Catenin</text><text transform="translate(203.44,1007.90) rotate(-45) scale(1.0,1)" font-size="11.6" text-anchor="end" fill="#111">pSTAT1</text><text transform="translate(218.47,1007.90) rotate(-45) scale(1.0,1)" font-size="11.6" text-anchor="end" fill="#111">GATA1</text><text transform="translate(233.50,1007.90) rotate(-45) scale(1.0,1)" font-size="11.6" text-anchor="end" fill="#111">PU.1</text><text transform="translate(248.53,1007.90) rotate(-45) scale(1.0,1)" font-size="11.6" text-anchor="end" fill="#111">pP38</text><text transform="translate(263.56,1007.90) rotate(-45) scale(1.0,1)" font-size="11.6" text-anchor="end" fill="#111">TAL1</text><text transform="translate(278.59,1007.90) rotate(-45) scale(1.0,1)" font-size="11.6" text-anchor="end" fill="#111">pSyk/Zap70</text><text transform="translate(293.62,1007.90) rotate(-45) scale(1.0,1)" font-size="11.6" text-anchor="end" fill="#111">pSMAD2/3</text><text transform="translate(308.65,1007.90) rotate(-45) scale(1.0,1)" font-size="11.6" text-anchor="end" fill="#111">pCRKL</text><text transform="translate(323.68,1007.90) rotate(-45) scale(1.0,1)" font-size="11.6" text-anchor="end" fill="#111">IκBα</text><text transform="translate(338.71,1007.90) rotate(-45) scale(1.0,1)" font-size="11.6" text-anchor="end" fill="#111">pACC</text><text transform="translate(353.74,1007.90) rotate(-45) scale(1.0,1)" font-size="11.6" text-anchor="end" fill="#111">CEBPα</text><text transform="translate(368.77,1007.90) rotate(-45) scale(1.0,1)" font-size="11.6" text-anchor="end" fill="#111">Cyclin B1</text><text transform="translate(383.80,1007.90) rotate(-45) scale(1.0,1)" font-size="11.6" text-anchor="end" fill="#111">IdU</text><text transform="translate(398.83,1007.90) rotate(-45) scale(1.0,1)" font-size="11.6" text-anchor="end" fill="#111">Ki67</text><text transform="translate(413.86,1007.90) rotate(-45) scale(1.0,1)" font-size="11.6" text-anchor="end" fill="#111">GATA3</text><text transform="translate(428.89,1007.90) rotate(-45) scale(1.0,1)" font-size="11.6" text-anchor="end" fill="#111">peEF2</text><text transform="translate(443.92,1007.90) rotate(-45) scale(1.0,1)" font-size="11.6" text-anchor="end" fill="#111">pSHP2</text><text transform="translate(458.95,1007.90) rotate(-45) scale(1.0,1)" font-size="11.6" text-anchor="end" fill="#111">PAX5</text><text transform="translate(473.98,1007.90) rotate(-45) scale(1.0,1)" font-size="11.6" text-anchor="end" fill="#111">pSrc</text><text transform="translate(489.01,1007.90) rotate(-45) scale(1.0,1)" font-size="11.6" text-anchor="end" fill="#111">cPARP</text><circle cx="76.80" cy="973.10" r="5.3" fill="#9dc53a" stroke="#84a92b" stroke-width="0.9"/><circle cx="91.83" cy="906.10" r="5.3" fill="#9dc53a" stroke="#84a92b" stroke-width="0.9"/><circle cx="106.86" cy="980.80" r="5.3" fill="#9dc53a" stroke="#84a92b" stroke-width="0.9"/><circle cx="121.89" cy="976.50" r="5.3" fill="#9dc53a" stroke="#84a92b" stroke-width="0.9"/><circle cx="136.92" cy="985.20" r="5.3" fill="#9dc53a" stroke="#84a92b" stroke-width="0.9"/><circle cx="151.95" cy="977.10" r="5.3" fill="#9dc53a" stroke="#84a92b" stroke-width="0.9"/><circle cx="166.98" cy="978.00" r="5.3" fill="#9dc53a" stroke="#84a92b" stroke-width="0.9"/><circle cx="182.01" cy="982.30" r="5.3" fill="#9dc53a" stroke="#84a92b" stroke-width="0.9"/><circle cx="197.04" cy="960.10" r="5.3" fill="#9dc53a" stroke="#84a92b" stroke-width="0.9"/><circle cx="212.07" cy="989.60" r="5.3" fill="#9dc53a" stroke="#84a92b" stroke-width="0.9"/><circle cx="227.10" cy="979.50" r="5.3" fill="#9dc53a" stroke="#84a92b" stroke-width="0.9"/><circle cx="242.13" cy="985.40" r="5.3" fill="#9dc53a" stroke="#84a92b" stroke-width="0.9"/><circle cx="257.16" cy="982.90" r="5.3" fill="#9dc53a" stroke="#84a92b" stroke-width="0.9"/><circle cx="272.19" cy="981.60" r="5.3" fill="#9dc53a" stroke="#84a92b" stroke-width="0.9"/><circle cx="287.22" cy="985.80" r="5.3" fill="#9dc53a" stroke="#84a92b" stroke-width="0.9"/><circle cx="302.25" cy="981.60" r="5.3" fill="#9dc53a" stroke="#84a92b" stroke-width="0.9"/><circle cx="317.28" cy="971.80" r="5.3" fill="#9dc53a" stroke="#84a92b" stroke-width="0.9"/><circle cx="332.31" cy="983.30" r="5.3" fill="#9dc53a" stroke="#84a92b" stroke-width="0.9"/><circle cx="347.34" cy="988.60" r="5.3" fill="#9dc53a" stroke="#84a92b" stroke-width="0.9"/><circle cx="362.37" cy="987.50" r="5.3" fill="#9dc53a" stroke="#84a92b" stroke-width="0.9"/><circle cx="377.40" cy="988.10" r="5.3" fill="#9dc53a" stroke="#84a92b" stroke-width="0.9"/><circle cx="392.43" cy="985.80" r="5.3" fill="#9dc53a" stroke="#84a92b" stroke-width="0.9"/><circle cx="407.46" cy="985.80" r="5.3" fill="#9dc53a" stroke="#84a92b" stroke-width="0.9"/><circle cx="422.49" cy="984.30" r="5.3" fill="#9dc53a" stroke="#84a92b" stroke-width="0.9"/><circle cx="437.52" cy="988.00" r="5.3" fill="#9dc53a" stroke="#84a92b" stroke-width="0.9"/><circle cx="452.55" cy="988.60" r="5.3" fill="#9dc53a" stroke="#84a92b" stroke-width="0.9"/><circle cx="467.58" cy="987.60" r="5.3" fill="#9dc53a" stroke="#84a92b" stroke-width="0.9"/><circle cx="482.61" cy="990.20" r="5.3" fill="#9dc53a" stroke="#84a92b" stroke-width="0.9"/><circle cx="76.80" cy="972.80" r="5.3" fill="#5aaa40" stroke="#43902f" stroke-width="0.9"/><circle cx="91.83" cy="905.80" r="5.3" fill="#5aaa40" stroke="#43902f" stroke-width="0.9"/><circle cx="106.86" cy="974.30" r="5.3" fill="#5aaa40" stroke="#43902f" stroke-width="0.9"/><circle cx="121.89" cy="961.30" r="5.3" fill="#5aaa40" stroke="#43902f" stroke-width="0.9"/><circle cx="136.92" cy="978.60" r="5.3" fill="#5aaa40" stroke="#43902f" stroke-width="0.9"/><circle cx="151.95" cy="971.00" r="5.3" fill="#5aaa40" stroke="#43902f" stroke-width="0.9"/><circle cx="166.98" cy="971.00" r="5.3" fill="#5aaa40" stroke="#43902f" stroke-width="0.9"/><circle cx="182.01" cy="973.90" r="5.3" fill="#5aaa40" stroke="#43902f" stroke-width="0.9"/><circle cx="197.04" cy="959.80" r="5.3" fill="#5aaa40" stroke="#43902f" stroke-width="0.9"/><circle cx="212.07" cy="989.20" r="5.3" fill="#5aaa40" stroke="#43902f" stroke-width="0.9"/><circle cx="227.10" cy="973.90" r="5.3" fill="#5aaa40" stroke="#43902f" stroke-width="0.9"/><circle cx="242.13" cy="978.70" r="5.3" fill="#5aaa40" stroke="#43902f" stroke-width="0.9"/><circle cx="257.16" cy="978.10" r="5.3" fill="#5aaa40" stroke="#43902f" stroke-width="0.9"/><circle cx="272.19" cy="976.60" r="5.3" fill="#5aaa40" stroke="#43902f" stroke-width="0.9"/><circle cx="287.22" cy="978.10" r="5.3" fill="#5aaa40" stroke="#43902f" stroke-width="0.9"/><circle cx="302.25" cy="977.40" r="5.3" fill="#5aaa40" stroke="#43902f" stroke-width="0.9"/><circle cx="317.28" cy="964.50" r="5.3" fill="#5aaa40" stroke="#43902f" stroke-width="0.9"/><circle cx="332.31" cy="965.50" r="5.3" fill="#5aaa40" stroke="#43902f" stroke-width="0.9"/><circle cx="347.34" cy="982.90" r="5.3" fill="#5aaa40" stroke="#43902f" stroke-width="0.9"/><circle cx="362.37" cy="982.30" r="5.3" fill="#5aaa40" stroke="#43902f" stroke-width="0.9"/><circle cx="377.40" cy="987.50" r="5.3" fill="#5aaa40" stroke="#43902f" stroke-width="0.9"/><circle cx="392.43" cy="976.50" r="5.3" fill="#5aaa40" stroke="#43902f" stroke-width="0.9"/><circle cx="407.46" cy="975.60" r="5.3" fill="#5aaa40" stroke="#43902f" stroke-width="0.9"/><circle cx="422.49" cy="973.90" r="5.3" fill="#5aaa40" stroke="#43902f" stroke-width="0.9"/><circle cx="437.52" cy="980.40" r="5.3" fill="#5aaa40" stroke="#43902f" stroke-width="0.9"/><circle cx="452.55" cy="984.70" r="5.3" fill="#5aaa40" stroke="#43902f" stroke-width="0.9"/><circle cx="467.58" cy="985.20" r="5.3" fill="#5aaa40" stroke="#43902f" stroke-width="0.9"/><circle cx="482.61" cy="984.30" r="5.3" fill="#5aaa40" stroke="#43902f" stroke-width="0.9"/></g>
<g><line x1="64.8" y1="1058.35" x2="64.8" y2="1205.05" stroke="#000" stroke-width="2.2"/><line x1="58.9" y1="1203.95" x2="64.8" y2="1203.95" stroke="#000" stroke-width="1.8"/><text x="54.3" y="1207.45" font-size="11.6" text-anchor="end" fill="#111">0</text><line x1="58.9" y1="1176.01" x2="64.8" y2="1176.01" stroke="#000" stroke-width="1.8"/><text x="54.3" y="1179.51" font-size="11.6" text-anchor="end" fill="#111">20</text><line x1="58.9" y1="1148.07" x2="64.8" y2="1148.07" stroke="#000" stroke-width="1.8"/><text x="54.3" y="1151.57" font-size="11.6" text-anchor="end" fill="#111">40</text><line x1="58.9" y1="1120.13" x2="64.8" y2="1120.13" stroke="#000" stroke-width="1.8"/><text x="54.3" y="1123.63" font-size="11.6" text-anchor="end" fill="#111">60</text><line x1="58.9" y1="1092.19" x2="64.8" y2="1092.19" stroke="#000" stroke-width="1.8"/><text x="54.3" y="1095.69" font-size="11.6" text-anchor="end" fill="#111">80</text><line x1="58.9" y1="1064.25" x2="64.8" y2="1064.25" stroke="#000" stroke-width="1.8"/><text x="54.3" y="1067.75" font-size="11.6" text-anchor="end" fill="#111">100</text><line x1="58.9" y1="1203.95" x2="493.6" y2="1203.95" stroke="#000" stroke-width="2.3"/><line x1="65.9" y1="1196.95" x2="493.6" y2="1196.95" stroke="#000" stroke-width="1.7" stroke-dasharray="10.6 4" stroke-dashoffset="2.7"/><text transform="translate(24.8,1131.55) rotate(-90) scale(0.855,1)" font-size="15.3" text-anchor="middle" fill="#111">Activated (%)</text><text x="491.5" y="1068.85" font-size="11.4" font-weight="bold" text-anchor="end" fill="#c2b373">GCSF</text><text transform="translate(83.20,1216.95) rotate(-45) scale(1.0,1)" font-size="11.6" text-anchor="end" fill="#111">pERK1/2</text><text transform="translate(98.23,1216.95) rotate(-45) scale(1.0,1)" font-size="11.6" text-anchor="end" fill="#111">pSTAT3</text><text transform="translate(113.26,1216.95) rotate(-45) scale(1.0,1)" font-size="11.6" text-anchor="end" fill="#111">pS6</text><text transform="translate(128.29,1216.95) rotate(-45) scale(1.0,1)" font-size="11.6" text-anchor="end" fill="#111">pSTAT5</text><text transform="translate(143.32,1216.95) rotate(-45) scale(1.0,1)" font-size="11.6" text-anchor="end" fill="#111">pCREB</text><text transform="translate(158.35,1216.95) rotate(-45) scale(1.0,1)" font-size="11.6" text-anchor="end" fill="#111">pMAPKAPK2</text><text transform="translate(173.38,1216.95) rotate(-45) scale(1.0,1)" font-size="11.6" text-anchor="end" fill="#111">pAKT</text><text transform="translate(188.41,1216.95) rotate(-45) scale(1.0,1)" font-size="11.6" text-anchor="end" fill="#111">β–Catenin</text><text transform="translate(203.44,1216.95) rotate(-45) scale(1.0,1)" font-size="11.6" text-anchor="end" fill="#111">pSTAT1</text><text transform="translate(218.47,1216.95) rotate(-45) scale(1.0,1)" font-size="11.6" text-anchor="end" fill="#111">GATA1</text><text transform="translate(233.50,1216.95) rotate(-45) scale(1.0,1)" font-size="11.6" text-anchor="end" fill="#111">PU.1</text><text transform="translate(248.53,1216.95) rotate(-45) scale(1.0,1)" font-size="11.6" text-anchor="end" fill="#111">pP38</text><text transform="translate(263.56,1216.95) rotate(-45) scale(1.0,1)" font-size="11.6" text-anchor="end" fill="#111">TAL1</text><text transform="translate(278.59,1216.95) rotate(-45) scale(1.0,1)" font-size="11.6" text-anchor="end" fill="#111">pSyk/Zap70</text><text transform="translate(293.62,1216.95) rotate(-45) scale(1.0,1)" font-size="11.6" text-anchor="end" fill="#111">pSMAD2/3</text><text transform="translate(308.65,1216.95) rotate(-45) scale(1.0,1)" font-size="11.6" text-anchor="end" fill="#111">pCRKL</text><text transform="translate(323.68,1216.95) rotate(-45) scale(1.0,1)" font-size="11.6" text-anchor="end" fill="#111">IκBα</text><text transform="translate(338.71,1216.95) rotate(-45) scale(1.0,1)" font-size="11.6" text-anchor="end" fill="#111">pACC</text><text transform="translate(353.74,1216.95) rotate(-45) scale(1.0,1)" font-size="11.6" text-anchor="end" fill="#111">CEBPα</text><text transform="translate(368.77,1216.95) rotate(-45) scale(1.0,1)" font-size="11.6" text-anchor="end" fill="#111">Cyclin B1</text><text transform="translate(383.80,1216.95) rotate(-45) scale(1.0,1)" font-size="11.6" text-anchor="end" fill="#111">IdU</text><text transform="translate(398.83,1216.95) rotate(-45) scale(1.0,1)" font-size="11.6" text-anchor="end" fill="#111">Ki67</text><text transform="translate(413.86,1216.95) rotate(-45) scale(1.0,1)" font-size="11.6" text-anchor="end" fill="#111">GATA3</text><text transform="translate(428.89,1216.95) rotate(-45) scale(1.0,1)" font-size="11.6" text-anchor="end" fill="#111">peEF2</text><text transform="translate(443.92,1216.95) rotate(-45) scale(1.0,1)" font-size="11.6" text-anchor="end" fill="#111">pSHP2</text><text transform="translate(458.95,1216.95) rotate(-45) scale(1.0,1)" font-size="11.6" text-anchor="end" fill="#111">PAX5</text><text transform="translate(473.98,1216.95) rotate(-45) scale(1.0,1)" font-size="11.6" text-anchor="end" fill="#111">pSrc</text><text transform="translate(489.01,1216.95) rotate(-45) scale(1.0,1)" font-size="11.6" text-anchor="end" fill="#111">cPARP</text><circle cx="76.80" cy="1185.10" r="5.3" fill="#9dc53a" stroke="#84a92b" stroke-width="0.9"/><circle cx="91.83" cy="1144.90" r="5.3" fill="#9dc53a" stroke="#84a92b" stroke-width="0.9"/><circle cx="106.86" cy="1175.60" r="5.3" fill="#9dc53a" stroke="#84a92b" stroke-width="0.9"/><circle cx="121.89" cy="1168.90" r="5.3" fill="#9dc53a" stroke="#84a92b" stroke-width="0.9"/><circle cx="136.92" cy="1193.60" r="5.3" fill="#9dc53a" stroke="#84a92b" stroke-width="0.9"/><circle cx="151.95" cy="1190.60" r="5.3" fill="#9dc53a" stroke="#84a92b" stroke-width="0.9"/><circle cx="166.98" cy="1181.30" r="5.3" fill="#9dc53a" stroke="#84a92b" stroke-width="0.9"/><circle cx="182.01" cy="1196.60" r="5.3" fill="#9dc53a" stroke="#84a92b" stroke-width="0.9"/><circle cx="197.04" cy="1187.90" r="5.3" fill="#9dc53a" stroke="#84a92b" stroke-width="0.9"/><circle cx="212.07" cy="1195.10" r="5.3" fill="#9dc53a" stroke="#84a92b" stroke-width="0.9"/><circle cx="227.10" cy="1188.30" r="5.3" fill="#9dc53a" stroke="#84a92b" stroke-width="0.9"/><circle cx="242.13" cy="1198.40" r="5.3" fill="#9dc53a" stroke="#84a92b" stroke-width="0.9"/><circle cx="257.16" cy="1197.70" r="5.3" fill="#9dc53a" stroke="#84a92b" stroke-width="0.9"/><circle cx="272.19" cy="1194.60" r="5.3" fill="#9dc53a" stroke="#84a92b" stroke-width="0.9"/><circle cx="287.22" cy="1193.60" r="5.3" fill="#9dc53a" stroke="#84a92b" stroke-width="0.9"/><circle cx="302.25" cy="1197.70" r="5.3" fill="#9dc53a" stroke="#84a92b" stroke-width="0.9"/><circle cx="317.28" cy="1181.60" r="5.3" fill="#9dc53a" stroke="#84a92b" stroke-width="0.9"/><circle cx="332.31" cy="1195.60" r="5.3" fill="#9dc53a" stroke="#84a92b" stroke-width="0.9"/><circle cx="347.34" cy="1196.60" r="5.3" fill="#9dc53a" stroke="#84a92b" stroke-width="0.9"/><circle cx="362.37" cy="1192.60" r="5.3" fill="#9dc53a" stroke="#84a92b" stroke-width="0.9"/><circle cx="377.40" cy="1192.50" r="5.3" fill="#9dc53a" stroke="#84a92b" stroke-width="0.9"/><circle cx="392.43" cy="1192.60" r="5.3" fill="#9dc53a" stroke="#84a92b" stroke-width="0.9"/><circle cx="407.46" cy="1192.60" r="5.3" fill="#9dc53a" stroke="#84a92b" stroke-width="0.9"/><circle cx="422.49" cy="1190.20" r="5.3" fill="#9dc53a" stroke="#84a92b" stroke-width="0.9"/><circle cx="437.52" cy="1196.30" r="5.3" fill="#9dc53a" stroke="#84a92b" stroke-width="0.9"/><circle cx="452.55" cy="1196.70" r="5.3" fill="#9dc53a" stroke="#84a92b" stroke-width="0.9"/><circle cx="467.58" cy="1198.40" r="5.3" fill="#9dc53a" stroke="#84a92b" stroke-width="0.9"/><circle cx="482.61" cy="1195.60" r="5.3" fill="#9dc53a" stroke="#84a92b" stroke-width="0.9"/><circle cx="76.80" cy="1184.90" r="5.3" fill="#5aaa40" stroke="#43902f" stroke-width="0.9"/><circle cx="91.83" cy="1123.60" r="5.3" fill="#5aaa40" stroke="#43902f" stroke-width="0.9"/><circle cx="106.86" cy="1175.40" r="5.3" fill="#5aaa40" stroke="#43902f" stroke-width="0.9"/><circle cx="121.89" cy="1159.50" r="5.3" fill="#5aaa40" stroke="#43902f" stroke-width="0.9"/><circle cx="136.92" cy="1187.80" r="5.3" fill="#5aaa40" stroke="#43902f" stroke-width="0.9"/><circle cx="151.95" cy="1183.40" r="5.3" fill="#5aaa40" stroke="#43902f" stroke-width="0.9"/><circle cx="166.98" cy="1171.50" r="5.3" fill="#5aaa40" stroke="#43902f" stroke-width="0.9"/><circle cx="182.01" cy="1196.30" r="5.3" fill="#5aaa40" stroke="#43902f" stroke-width="0.9"/><circle cx="197.04" cy="1184.70" r="5.3" fill="#5aaa40" stroke="#43902f" stroke-width="0.9"/><circle cx="212.07" cy="1194.60" r="5.3" fill="#5aaa40" stroke="#43902f" stroke-width="0.9"/><circle cx="227.10" cy="1184.10" r="5.3" fill="#5aaa40" stroke="#43902f" stroke-width="0.9"/><circle cx="242.13" cy="1190.00" r="5.3" fill="#5aaa40" stroke="#43902f" stroke-width="0.9"/><circle cx="257.16" cy="1185.20" r="5.3" fill="#5aaa40" stroke="#43902f" stroke-width="0.9"/><circle cx="272.19" cy="1189.40" r="5.3" fill="#5aaa40" stroke="#43902f" stroke-width="0.9"/><circle cx="287.22" cy="1187.90" r="5.3" fill="#5aaa40" stroke="#43902f" stroke-width="0.9"/><circle cx="302.25" cy="1189.40" r="5.3" fill="#5aaa40" stroke="#43902f" stroke-width="0.9"/><circle cx="317.28" cy="1181.00" r="5.3" fill="#5aaa40" stroke="#43902f" stroke-width="0.9"/><circle cx="332.31" cy="1184.10" r="5.3" fill="#5aaa40" stroke="#43902f" stroke-width="0.9"/><circle cx="347.34" cy="1192.10" r="5.3" fill="#5aaa40" stroke="#43902f" stroke-width="0.9"/><circle cx="362.37" cy="1191.40" r="5.3" fill="#5aaa40" stroke="#43902f" stroke-width="0.9"/><circle cx="377.40" cy="1196.70" r="5.3" fill="#5aaa40" stroke="#43902f" stroke-width="0.9"/><circle cx="392.43" cy="1191.90" r="5.3" fill="#5aaa40" stroke="#43902f" stroke-width="0.9"/><circle cx="407.46" cy="1192.30" r="5.3" fill="#5aaa40" stroke="#43902f" stroke-width="0.9"/><circle cx="422.49" cy="1183.60" r="5.3" fill="#5aaa40" stroke="#43902f" stroke-width="0.9"/><circle cx="437.52" cy="1191.90" r="5.3" fill="#5aaa40" stroke="#43902f" stroke-width="0.9"/><circle cx="452.55" cy="1187.10" r="5.3" fill="#5aaa40" stroke="#43902f" stroke-width="0.9"/><circle cx="467.58" cy="1194.50" r="5.3" fill="#5aaa40" stroke="#43902f" stroke-width="0.9"/><circle cx="482.61" cy="1195.20" r="5.3" fill="#5aaa40" stroke="#43902f" stroke-width="0.9"/></g>
<rect x="1" y="1" width="504" height="1278" fill="none" stroke="#000" stroke-width="2"/>
</svg></body></html>
